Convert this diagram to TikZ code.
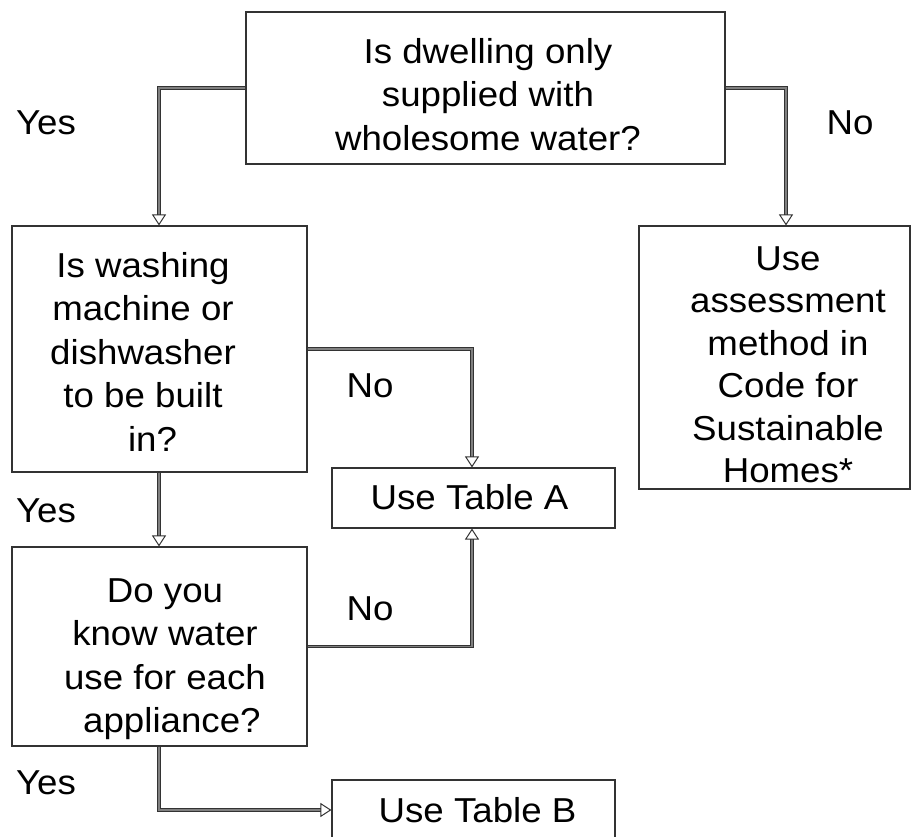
\documentclass[tikz,border=0pt]{standalone}
\usepackage{fontspec}
\setmainfont{Liberation Sans}[FakeStretch=1.06]
\usetikzlibrary{arrows.meta}
\begin{document}
\begin{tikzpicture}[x=1pt,y=-1pt,
  box/.style={draw=black!80, line width=1.1pt, inner sep=0pt},
  txt/.style={inner sep=0pt, align=center, anchor=north, font=\fontsize{34.6}{43.5}\selectfont},
  lbl/.style={inner sep=0pt, anchor=base, font=\fontsize{34.6}{43.5}\selectfont},
  conn/.style={draw=black!80, line width=1.1pt, double=black!50, double distance=1.1pt,
    -{Triangle[open, length=11pt, width=14pt, line width=1pt]}}]
\useasboundingbox (0,0) rectangle (922,837);
% boxes
\node[box, minimum width=479pt, minimum height=152pt] (top) at (485.5,88) {};
\node[box, minimum width=295pt, minimum height=246pt] (wash) at (159.5,349) {};
\node[box, minimum width=271pt, minimum height=263pt] (code) at (774.5,357.5) {};
\node[box, minimum width=283pt, minimum height=60pt] (ta) at (473.5,498) {};
\node[box, minimum width=295pt, minimum height=199pt] (know) at (159.5,646.5) {};
\node[box, minimum width=283pt, minimum height=60pt] (tb) at (473.5,810) {};
% texts (north = first baseline - 0.7*baselineskip)
\node[txt] (ttop) at (488,32.55) {\strut Is dwelling only\\supplied with\\wholesome water?};
\node[txt] (twash) at (143,246.55) {\strut Is washing\\machine or\\dishwasher\\to be built\\\hspace*{0.55em}in?};
\node[txt, font=\fontsize{34.6}{42.5}\selectfont] (tcode) at (788,240.25) {\strut Use\\assessment\\method in\\Code for\\Sustainable\\Homes*};
\node[txt] (tknow) at (165,571.55) {\strut Do you\\know water\\use for each\\\hspace*{0.4em}appliance?};
\node[lbl] (tta) at (469.5,509) {Use Table A};
\node[lbl] (ttb) at (477.5,822) {Use Table B};
% labels
\node[lbl] (y1) at (46,135) {Yes};
\node[lbl] (n1) at (850,135) {No};
\node[lbl] (n2) at (370,397) {No};
\node[lbl] (y2) at (46,522) {Yes};
\node[lbl] (n3) at (370,620) {No};
\node[lbl] (y3) at (46,794) {Yes};
% connectors
\coordinate (c1) at (159,88);
\coordinate (c2) at (786,88);
\coordinate (c3) at (472,349);
\coordinate (c5) at (472,646.5);
\coordinate (c6) at (159,810);
\draw[conn] (top.west) -- (c1) -- (c1 |- wash.north);
\draw[conn] (top.east) -- (c2) -- (c2 |- code.north);
\draw[conn] (wash.east) -- (c3) -- (c3 |- ta.north);
\draw[conn] (wash.south -| c1) -- (c1 |- know.north);
\draw[conn] (know.east) -- (c5) -- (c5 |- ta.south);
\draw[conn] (know.south -| c1) -- (c6) -- (tb.west);
\end{tikzpicture}
\end{document}
